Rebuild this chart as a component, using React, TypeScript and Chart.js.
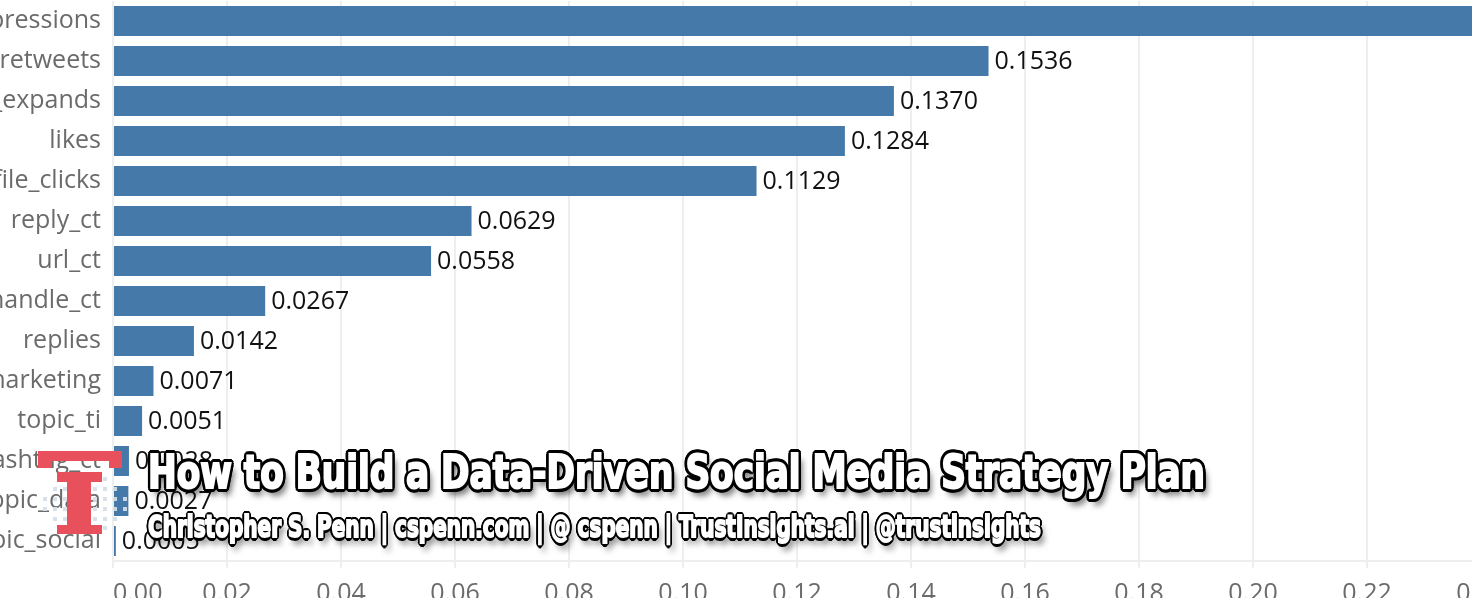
import React, { useEffect, useLayoutEffect, useRef } from "react";
import { Chart, registerables } from "chart.js";

Chart.register(...registerables);

const categories = [
  "impressions",
  "retweets",
  "detail_expands",
  "likes",
  "user_profile_clicks",
  "reply_ct",
  "url_ct",
  "user_handle_ct",
  "replies",
  "topic_marketing",
  "topic_ti",
  "hashtag_ct",
  "topic_data",
  "topic_social",
];
const values = [
  0.253, 0.1536, 0.137, 0.1284, 0.1129, 0.0629, 0.0558, 0.0267, 0.0142, 0.0071,
  0.0051, 0.0028, 0.0027, 0.0005,
];
const valueLabels = values.map((v) => v.toFixed(4));
const xMin = 0;
const xMax = 0.26;
const xStep = 0.02;

const titleText = "How to Build a Data-Driven Social Media Strategy Plan";
const subtitleText =
  "Christopher S. Penn | cspenn.com | @ cspenn | TrustInsights.ai | @trustinsights";

const FONT = '"Open Sans", "Noto Sans", sans-serif';

const valueLabelPlugin = {
  id: "valueLabels",
  afterDatasetsDraw(chart: any) {
    const ctx = chart.ctx;
    const meta = chart.getDatasetMeta(0);
    ctx.save();
    ctx.font = `25px ${FONT}`;
    ctx.fillStyle = "#111111";
    ctx.textBaseline = "middle";
    ctx.textAlign = "left";
    meta.data.forEach((bar: any, i: number) => {
      ctx.fillText(valueLabels[i], bar.x + 6, bar.y + 1);
    });
    ctx.restore();
  },
};

function outlineShadow(r: number) {
  const parts: string[] = [];
  for (let a = 0; a < 360; a += 22.5) {
    const rad = (a * Math.PI) / 180;
    parts.push(`${(r * Math.cos(rad)).toFixed(2)}px ${(r * Math.sin(rad)).toFixed(2)}px 0 #000`);
  }
  for (let a = 0; a < 360; a += 45) {
    const rad = (a * Math.PI) / 180;
    parts.push(`${((r / 2) * Math.cos(rad)).toFixed(2)}px ${((r / 2) * Math.sin(rad)).toFixed(2)}px 0 #000`);
  }
  parts.push(`5px 7px 7px rgba(0,0,0,0.6)`);
  return parts.join(", ");
}

function FitText(props: { text: string; left: number; top: number; size: number; target: number; outline: number }) {
  const ref = useRef<HTMLSpanElement>(null);
  useLayoutEffect(() => {
    const el = ref.current;
    if (!el) return;
    const measure = () => {
      el.style.transform = "none";
      const w = el.getBoundingClientRect().width;
      if (w > 0) el.style.transform = `scaleX(${props.target / w})`;
    };
    measure();
    (document as any).fonts?.ready?.then(measure);
  }, []);
  return (
    <span
      ref={ref}
      style={{
        position: "absolute",
        left: props.left,
        top: props.top,
        fontFamily: '"Liberation Sans Narrow", "DejaVu Sans Condensed", "Roboto", sans-serif',
        fontWeight: 700,
        fontSize: props.size,
        lineHeight: `${props.size}px`,
        color: "#ffffff",
        whiteSpace: "nowrap",
        transformOrigin: "0 0",
        WebkitTextStroke: "2px #ffffff",
        textShadow: outlineShadow(props.outline),
        display: "inline-block",
      }}
    >
      {props.text}
    </span>
  );
}

function Logo() {
  const red = "#e8505b";
  const dots: JSX.Element[] = [];
  const cols = [45, 55, 65, 75, 85, 95, 105, 115, 125];
  const rows = [479, 489, 499, 509, 519, 528];
  cols.forEach((cx) => {
    rows.forEach((cy) => {
      const dx = (cx - 85) / 44;
      const dy = (cy - 504) / 30;
      if (dx * dx + dy * dy <= 1.05) {
        dots.push(
          <div
            key={`${cx}-${cy}`}
            style={{
              position: "absolute",
              left: cx - 2,
              top: cy - 2,
              width: 4,
              height: 4,
              background: "rgba(214,223,233,0.92)",
            }}
          />
        );
      }
    });
  });
  const rect = (l: number, t: number, w: number, h: number, key: string) => (
    <div key={key} style={{ position: "absolute", left: l, top: t, width: w, height: h, background: red }} />
  );
  return (
    <>
      {dots}
      {rect(38, 451, 84, 10, "tb")}
      {rect(38, 451, 14, 17, "tl")}
      {rect(109, 451, 13, 17, "tr")}
      {rect(57, 472, 45, 10, "is")}
      {rect(67, 481, 24, 45, "st")}
      {rect(57, 525, 45, 9, "ib")}
    </>
  );
}

export default function App() {
  const canvasRef = useRef<HTMLCanvasElement>(null);

  useEffect(() => {
    const canvas = canvasRef.current;
    if (!canvas) return;
    const chart = new Chart(canvas, {
      type: "bar",
      data: {
        labels: categories,
        datasets: [
          {
            data: values,
            backgroundColor: "#4479a9",
            borderWidth: 0,
            barPercentage: 0.75,
            categoryPercentage: 1.0,
          },
        ],
      },
      options: {
        indexAxis: "y",
        responsive: false,
        animation: false,
        devicePixelRatio: 1,
        layout: { padding: { top: 1, right: 105, left: 0, bottom: 0 } },
        plugins: {
          legend: { display: false },
          tooltip: { enabled: false },
          title: { display: false },
        },
        scales: {
          x: {
            type: "linear",
            min: xMin,
            max: xMax,
            afterFit: (scale: any) => {
              scale.height = 79;
              scale.paddingLeft = 0;
              scale.paddingRight = 0;
            },
            ticks: {
              stepSize: xStep,
              align: "inner",
              padding: 11,
              color: "#6b6b6b",
              font: { family: FONT, size: 25 },
              callback: (v: any) => Number(v).toFixed(2),
              maxRotation: 0,
              autoSkip: false,
            },
            grid: {
              color: "#eeeeee",
              lineWidth: 2,
              tickLength: 7,
              tickColor: "#eeeeee",
            },
            border: { display: true, color: "#eeeeee", width: 2 },
          },
          y: {
            type: "category",
            afterFit: (scale: any) => {
              scale.width = 313;
              scale.paddingTop = 0;
              scale.paddingBottom = 0;
            },
            ticks: {
              padding: 12,
              color: "#6b6b6b",
              font: { family: FONT, size: 25 },
              autoSkip: false,
            },
            grid: { display: false, drawTicks: false },
            border: { display: false },
          },
        },
      },
      plugins: [valueLabelPlugin],
    } as any);
    return () => chart.destroy();
  }, []);

  return (
    <div
      style={{
        position: "fixed",
        left: 0,
        top: 0,
        width: 1472,
        height: 598,
        overflow: "hidden",
        background: "#ffffff",
      }}
    >
      <canvas
        ref={canvasRef}
        width={1900}
        height={640}
        style={{ position: "absolute", left: -200, top: 0, width: 1900, height: 640 }}
      />
      <Logo />
      <FitText text={titleText} left={148} top={449} size={46} target={1057} outline={4} />
      <FitText text={subtitleText} left={148} top={511} size={31} target={893} outline={3.5} />
    </div>
  );
}
